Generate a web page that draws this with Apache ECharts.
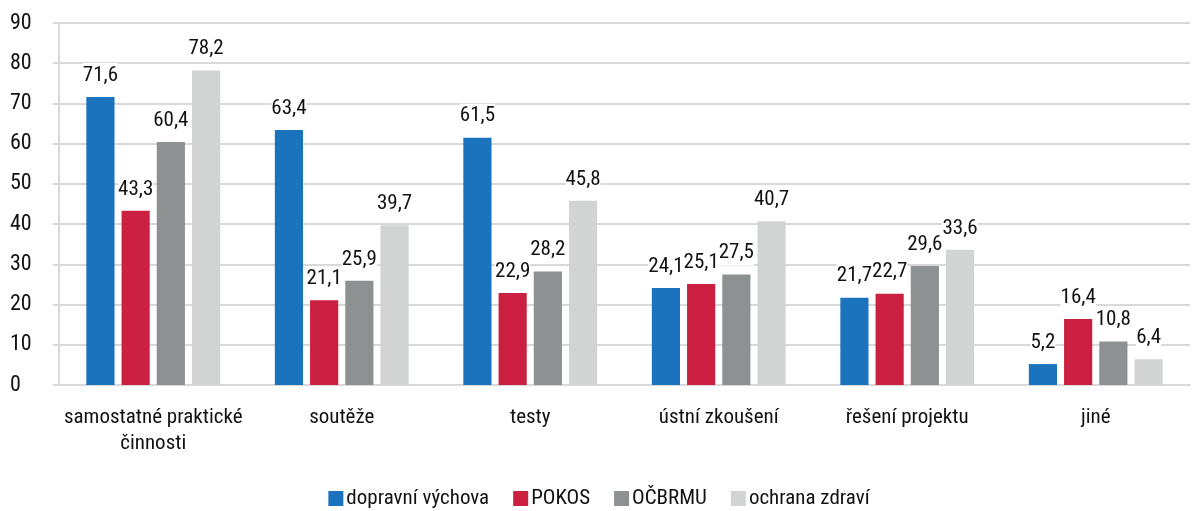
<!DOCTYPE html>
<html><head><meta charset="utf-8">
<script src="https://cdn.jsdelivr.net/npm/echarts@6/dist/echarts.min.js"></script>
<style>html,body{margin:0;padding:0;background:#fff}#c{width:1198px;height:511px}</style>
</head><body><div id="c"></div>
<script>
const categories = ['samostatné praktické\nčinnosti','soutěže','testy','ústní zkoušení','řešení projektu','jiné'];
const seriesNames = ['dopravní výchova','POKOS','OČBRMU','ochrana zdraví'];
const dopravni = [71.6,63.4,61.5,24.1,21.7,5.2];
const pokos = [43.3,21.1,22.9,25.1,22.7,16.4];
const ocbrmu = [60.4,25.9,28.2,27.5,29.6,10.8];
const ochrana = [78.2,39.7,45.8,40.7,33.6,6.4];
const colors = ['#1b72bd','#cb2041','#8e9192','#d2d3d3'];
const values = [dopravni,pokos,ocbrmu,ochrana];
const FONT = '"Roboto Condensed","Liberation Sans Narrow",Roboto,sans-serif';
const chart = echarts.init(document.getElementById('c'));
chart.setOption({
  animation:false,
  textStyle:{fontFamily:FONT},
  legend:{bottom:-3,left:'center',itemWidth:15,itemHeight:15,itemGap:24,icon:'rect',
    textStyle:{fontFamily:FONT,fontSize:21,color:'#111',padding:[0,0,0,-2]}},
  grid:{left:59,right:8,top:23,bottom:126},
  xAxis:{type:'category',data:categories,
    axisLine:{lineStyle:{color:'#d9d9d9',width:2}},axisTick:{show:false},
    axisLabel:{interval:0,fontFamily:FONT,fontSize:21,color:'#111',margin:20,lineHeight:26}},
  yAxis:{type:'value',min:0,max:90,interval:10,
    axisLine:{show:true,lineStyle:{color:'#d9d9d9',width:2}},
    axisTick:{show:true,length:6,lineStyle:{color:'#d9d9d9',width:2}},
    splitLine:{lineStyle:{color:'#d9d9d9',width:2}},
    axisLabel:{fontFamily:FONT,fontSize:22,color:'#111',margin:49,align:'left'}},
  series: seriesNames.map((n,i)=>({
    name:n,type:'bar',data:values[i],barGap:'25%',barCategoryGap:'29%',
    itemStyle:{color:colors[i]},
    label:{show:true,position:'top',distance:9,fontFamily:FONT,fontSize:21,color:'#111',
      backgroundColor:'#fff',padding:[2,0],
      formatter:p=>String(p.value).replace('.',',')}
  }))
});
</script></body></html>
